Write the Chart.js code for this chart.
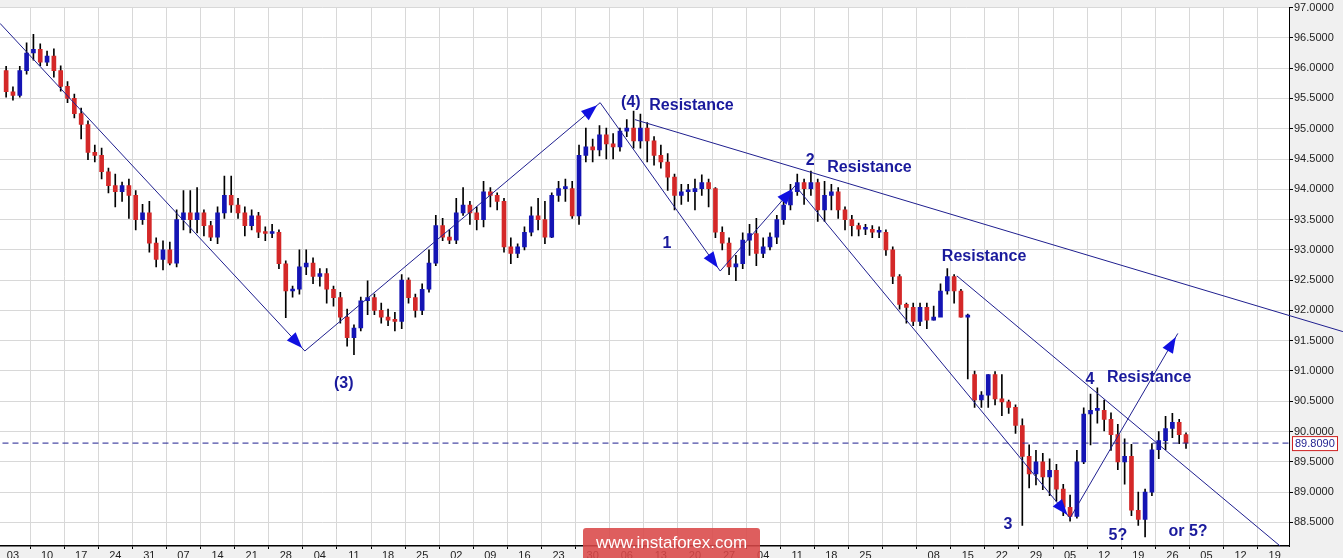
<!DOCTYPE html>
<html>
<head>
<meta charset="utf-8">
<script src="https://cdn.jsdelivr.net/npm/chart.js@4/dist/chart.umd.min.js"></script>
<style>
  body { margin: 0; background: #f0f0f0; }
  #wrap { position: relative; width: 1343px; height: 558px; }
  #mark { position: absolute; left: 583px; top: 528px; width: 177px; height: 30px; background: rgba(218,72,72,0.88);
          color: #fff; font: 17px "Liberation Sans", Arial, sans-serif; text-align: center; line-height: 30px;
          border-radius: 3px 3px 0 0; }
</style>
</head>
<body>
<div id="wrap">
  <canvas id="chart" width="1343" height="558"></canvas>
  <div id="mark">www.instaforex.com</div>
</div>
<script>
// weekly tick labels (one every 5 trading days)
const weekLabels = ['03','10','17','24','31','07','14','21','28','04','11','18','25','02','09','16','23','30','06','13',
  '20','27','04','11','18','25','','08','15','22','29','05','12','19','26','05','12','19'];

// daily candles, first one sits on day -1
const opens = [95.96,95.61,95.55,95.96,96.25,96.31,96.10,96.20,95.96,95.70,
  95.50,95.25,95.07,94.61,94.56,94.29,94.06,93.96,94.06,93.90,
  93.50,93.61,93.11,92.84,93.00,92.78,93.50,93.61,93.50,93.61,
  93.40,93.21,93.61,93.90,93.74,93.61,93.40,93.56,93.29,93.27,
  93.29,92.77,92.32,92.35,92.72,92.78,92.56,92.61,92.35,92.21,
  91.89,91.55,91.71,92.16,92.21,92.00,91.89,91.84,91.82,92.50,
  92.21,92.00,92.35,92.78,93.40,93.21,93.16,93.61,93.74,93.61,
  93.50,93.96,93.90,93.80,93.05,92.94,93.05,93.29,93.56,93.50,
  93.21,93.90,94.01,94.01,93.56,94.56,94.70,94.65,94.90,94.75,
  94.70,94.96,95.01,94.80,95.01,94.80,94.56,94.45,94.20,93.90,
  93.96,93.96,94.01,94.11,94.01,93.29,93.11,92.72,92.77,93.16,
  93.27,92.94,93.05,93.21,93.50,93.74,93.96,94.11,94.01,94.11,
  93.66,93.90,93.96,93.66,93.50,93.40,93.34,93.34,93.29,93.29,
  93.00,92.56,92.10,92.05,91.82,92.05,91.84,91.89,92.32,92.56,
  92.32,91.89,90.94,90.52,90.60,90.94,90.54,90.49,90.40,90.10,
  89.59,89.30,89.50,89.25,89.36,89.05,88.75,88.60,89.50,90.29,
  90.35,90.35,90.20,89.95,89.50,89.59,88.70,88.55,89.00,89.70,
  89.85,90.05,90.15,89.95];
const closes = [95.61,95.55,95.96,96.25,96.31,96.10,96.20,95.96,95.70,95.50,
  95.25,95.07,94.61,94.56,94.29,94.06,93.96,94.06,93.90,93.50,
  93.61,93.11,92.84,93.00,92.78,93.50,93.61,93.50,93.61,93.40,
  93.21,93.61,93.90,93.74,93.61,93.40,93.56,93.29,93.27,93.29,
  92.77,92.32,92.35,92.72,92.78,92.56,92.61,92.35,92.21,91.89,
  91.55,91.71,92.16,92.21,92.00,91.89,91.84,91.82,92.50,92.21,
  92.00,92.35,92.78,93.40,93.21,93.16,93.61,93.74,93.61,93.50,
  93.96,93.90,93.80,93.05,92.94,93.05,93.29,93.56,93.50,93.21,
  93.90,94.01,94.01,93.56,94.56,94.70,94.65,94.90,94.75,94.70,
  94.96,95.01,94.80,95.01,94.80,94.56,94.45,94.20,93.90,93.96,
  93.96,94.01,94.11,94.01,93.29,93.11,92.72,92.77,93.16,93.27,
  92.94,93.05,93.21,93.50,93.74,93.96,94.11,94.01,94.11,93.66,
  93.90,93.96,93.66,93.50,93.40,93.34,93.34,93.29,93.29,93.00,
  92.56,92.10,92.05,91.82,92.05,91.84,91.89,92.32,92.56,92.32,
  91.89,91.89,90.52,90.60,90.94,90.54,90.49,90.40,90.10,89.59,
  89.30,89.50,89.25,89.36,89.05,88.75,88.60,89.50,90.29,90.35,
  90.35,90.20,89.95,89.50,89.59,88.70,88.55,89.00,89.70,89.85,
  90.05,90.15,89.95,89.81];
const highs = [96.03,95.69,96.03,96.42,96.56,96.40,96.28,96.32,96.04,95.78,
  95.57,95.34,95.13,94.73,94.68,94.35,94.25,94.12,94.17,93.98,
  93.75,93.80,93.20,93.15,93.13,93.66,93.98,93.98,94.03,93.66,
  93.47,93.71,94.22,94.22,93.85,93.71,93.66,93.62,93.38,93.42,
  93.33,92.82,92.40,93.00,93.00,92.87,92.69,92.69,92.40,92.30,
  92.02,91.76,92.22,92.49,92.27,92.12,92.02,91.97,92.59,92.54,
  92.27,92.44,93.00,93.57,93.52,93.33,93.85,94.03,93.80,93.71,
  94.13,94.03,93.94,93.85,93.20,93.10,93.38,93.71,93.85,93.80,
  93.94,94.13,94.17,94.13,94.73,95.01,94.83,95.05,95.01,94.92,
  95.01,95.15,95.29,95.24,95.10,94.87,94.73,94.59,94.25,94.08,
  94.08,94.17,94.24,94.17,94.03,93.38,93.20,92.91,93.28,93.42,
  93.52,93.20,93.28,93.57,93.80,94.08,94.25,94.17,94.30,94.17,
  94.13,94.08,94.03,93.71,93.57,93.44,93.42,93.40,93.38,93.33,
  93.05,92.59,92.12,92.12,92.12,92.12,92.07,92.44,92.69,92.59,
  92.35,91.94,91.00,90.66,90.94,90.99,90.94,90.52,90.44,90.21,
  89.78,89.69,89.64,89.55,89.46,89.13,88.95,89.69,90.39,90.62,
  90.72,90.52,90.31,90.12,89.88,89.79,89.00,89.05,89.80,90.00,
  90.25,90.30,90.20,89.98];
const lows = [95.52,95.47,95.52,95.90,96.13,96.04,96.04,95.85,95.62,95.43,
  95.18,94.83,94.49,94.45,94.17,93.94,93.71,93.80,93.52,93.33,
  93.42,92.96,92.72,92.67,92.75,92.72,93.33,93.28,93.28,93.23,
  93.15,93.10,93.52,93.62,93.52,93.23,93.33,93.20,93.15,93.20,
  92.69,91.88,92.22,92.27,92.59,92.44,92.40,92.12,92.07,91.79,
  91.41,91.27,91.66,91.93,91.93,91.79,91.75,91.66,91.70,92.12,
  91.89,91.93,92.30,92.74,93.15,93.10,93.10,93.57,93.42,93.33,
  93.38,93.71,93.66,92.96,92.77,92.87,93.00,93.23,93.33,93.10,
  93.20,93.80,93.80,93.52,93.42,94.45,94.45,94.55,94.50,94.50,
  94.63,94.87,94.68,94.68,94.45,94.40,94.35,93.98,93.66,93.75,
  93.80,93.66,93.90,93.71,93.20,93.00,92.59,92.49,92.69,92.91,
  92.74,92.87,93.00,93.10,93.42,93.66,93.90,93.75,93.90,93.47,
  93.47,93.66,93.52,93.33,93.23,93.23,93.25,93.20,93.20,92.91,
  92.44,92.02,91.79,91.75,91.75,91.70,91.84,92.07,92.27,92.12,
  91.89,90.87,90.40,90.40,90.40,90.44,90.26,90.30,89.97,88.45,
  89.07,89.12,89.04,88.94,88.85,88.61,88.52,88.57,89.47,89.78,
  90.14,90.01,89.69,89.37,89.13,88.61,88.45,88.26,88.94,89.55,
  89.70,89.90,89.80,89.72];
const lastPrice = 89.809;

// hand-drawn wave path and resistance lines, as [day, price]
const wavePath = [[-1.9,96.74],[42.8,91.33],[86.1,95.43],[103.7,92.65],[114.7,94.06],[155,88.57],[170.8,91.62]];
const resistTop = [[91.2,95.15],[195,91.65]];
const resistLow = [[138.4,92.57],[185.8,88.11]];

// annotation texts: [text, day, price, align]
const notes = [
  ['(4)',90.6,95.43,'center'],['Resistance',93.3,95.38,'left'],['(3)',48.5,90.79,'center'],
  ['1',95.9,93.10,'center'],['2',116.9,94.48,'center'],['Resistance',119.4,94.35,'left'],
  ['Resistance',136.2,92.89,'left'],['4',157.9,90.86,'center'],['Resistance',160.4,90.89,'left'],
  ['3',145.9,88.47,'center'],['5?',162,88.29,'center'],['or 5?',172.3,88.35,'center']
];

const NAVY = '#1f1f8f';
const days = closes.map((c, i) => i - 1);
const up = closes.map((c, i) => c >= opens[i]);
const toPts = arr => arr.map(p => ({ x: p[0], y: p[1] }));

const decor = {
  id: 'decor',
  beforeDraw(chart) {
    const { ctx, chartArea: a } = chart;
    ctx.save();
    ctx.fillStyle = '#f0f0f0';
    ctx.fillRect(0, 0, chart.width, chart.height);
    ctx.fillStyle = '#fff';
    ctx.fillRect(a.left, a.top, a.right - a.left, a.bottom - a.top);
    ctx.restore();
  },
  afterDraw(chart) {
    const { ctx, chartArea: a } = chart;
    const xs = chart.scales.x, ys = chart.scales.y;
    ctx.save();
    // top resistance runs on past the price axis
    ctx.strokeStyle = NAVY;
    ctx.lineWidth = 1;
    ctx.beginPath();
    ctx.moveTo(xs.getPixelForValue(resistTop[0][0]), ys.getPixelForValue(resistTop[0][1]));
    ctx.lineTo(xs.getPixelForValue(resistTop[1][0]), ys.getPixelForValue(resistTop[1][1]));
    ctx.stroke();
    // arrowheads on each segment end of the wave path
    ctx.fillStyle = '#1010e0';
    for (let k = 1; k < wavePath.length; k++) {
      const x0 = xs.getPixelForValue(wavePath[k - 1][0]), y0 = ys.getPixelForValue(wavePath[k - 1][1]);
      const x1 = xs.getPixelForValue(wavePath[k][0]), y1 = ys.getPixelForValue(wavePath[k][1]);
      const ang = Math.atan2(y1 - y0, x1 - x0);
      const bx = x1 - 4 * Math.cos(ang), by = y1 - 4 * Math.sin(ang);
      ctx.beginPath();
      ctx.moveTo(bx, by);
      ctx.lineTo(bx - 16 * Math.cos(ang) + 6 * Math.sin(ang), by - 16 * Math.sin(ang) - 6 * Math.cos(ang));
      ctx.lineTo(bx - 16 * Math.cos(ang) - 6 * Math.sin(ang), by - 16 * Math.sin(ang) + 6 * Math.cos(ang));
      ctx.closePath();
      ctx.fill();
    }
    // wave labels
    ctx.fillStyle = '#1a1a9c';
    ctx.font = 'bold 16px "Liberation Sans", Arial, sans-serif';
    ctx.textBaseline = 'middle';
    notes.forEach(n => {
      ctx.textAlign = n[3];
      ctx.fillText(n[0], xs.getPixelForValue(n[1]), ys.getPixelForValue(n[2]));
    });
    // last price box
    const py = ys.getPixelForValue(lastPrice);
    ctx.font = '11px "Liberation Sans", Arial, sans-serif';
    ctx.textAlign = 'left';
    ctx.fillStyle = '#fff';
    ctx.fillRect(a.right + 3, py - 7, 45, 14);
    ctx.strokeStyle = '#d02020';
    ctx.strokeRect(a.right + 3.5, py - 6.5, 45, 14);
    ctx.fillStyle = NAVY;
    ctx.fillText(lastPrice.toFixed(4), a.right + 6, py + 0.5);
    ctx.restore();
  }
};

const lineDs = (pts, extra) => Object.assign({
  type: 'line', data: toPts(pts), borderColor: NAVY, borderWidth: 1, pointRadius: 0, fill: false, order: 0
}, extra || {});

new Chart(document.getElementById('chart'), {
  type: 'bar',
  data: {
    datasets: [
      lineDs(wavePath),
      lineDs(resistLow),
      lineDs([[-3, lastPrice], [190, lastPrice]], { borderDash: [6, 4] }),
      {
        label: 'body', data: days.map((d, i) => ({ x: d, y: [opens[i], closes[i]] })),
        backgroundColor: up.map(u => u ? '#1414b4' : '#d42828'), barThickness: 4, minBarLength: 2,
        grouped: false, order: 1
      },
      {
        label: 'wick', data: days.map((d, i) => ({ x: d, y: [lows[i], highs[i]] })),
        backgroundColor: '#000', barThickness: 1, grouped: false, order: 2
      }
    ]
  },
  options: {
    responsive: false,
    animation: false,
    layout: { padding: { top: -7 } },
    plugins: { legend: { display: false }, tooltip: { enabled: false } },
    scales: {
      x: {
        type: 'linear', min: -1.9, max: 187.1, offset: false,
        afterFit: s => { s.height = 12; },
        grid: { color: '#d8d8d8', tickColor: '#000', tickLength: 3 },
        border: { color: '#000', width: 1.5 },
        ticks: {
          stepSize: 5, includeBounds: false, autoSkip: false, maxRotation: 0, padding: 0,
          color: '#222', font: { size: 11, family: '"Liberation Sans", Arial' },
          callback: v => weekLabels[Math.round(v / 5)] ?? ''
        }
      },
      y: {
        position: 'right', min: 88.11, max: 97.0,
        afterFit: s => { s.width = 54; },
        grid: { color: '#d8d8d8', tickColor: '#000', tickLength: 4 },
        border: { color: '#000', width: 1 },
        ticks: {
          stepSize: 0.5, includeBounds: false, padding: 1, color: '#222',
          font: { size: 11, family: '"Liberation Sans", Arial' },
          callback: v => v.toFixed(4)
        }
      }
    }
  },
  plugins: [decor]
});
</script>
</body>
</html>
